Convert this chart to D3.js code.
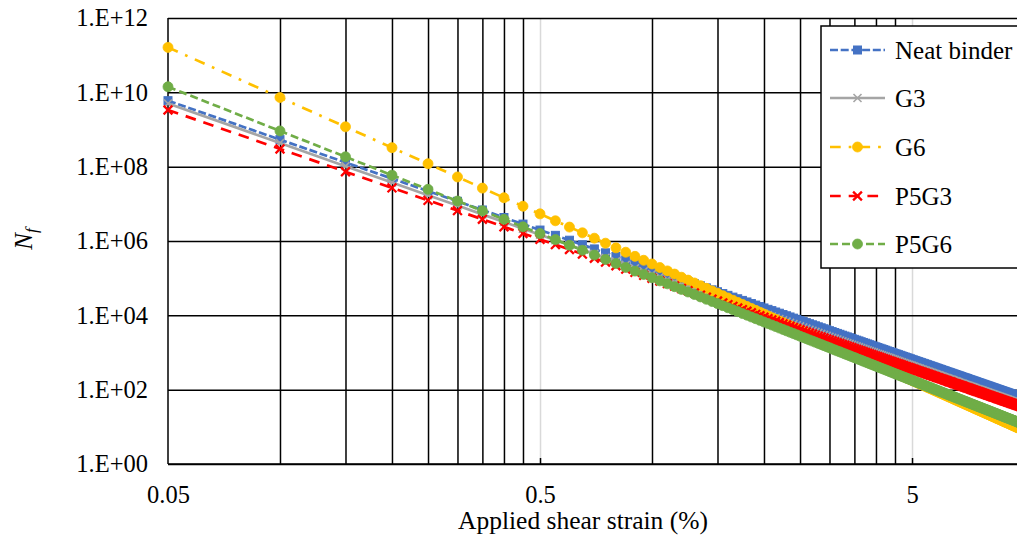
<!DOCTYPE html>
<html>
<head>
<meta charset="utf-8">
<script src="https://cdn.jsdelivr.net/npm/d3@7"></script>
<style>
  html, body { margin: 0; padding: 0; background: #fff; overflow: hidden; }
  svg { display: block; }
</style>
</head>
<body>
<svg id="chart" width="1017" height="535"></svg>
<script>
// Applied shear strain (%) at which fatigue life was evaluated
const strain = [
  0.05,0.10,0.15,0.20,0.25,0.30,0.35,0.40,0.45,0.50,0.55,0.60,0.65,0.70,0.75,0.80,0.85,0.90,0.95,1.00,
  1.05,1.10,1.15,1.20,1.25,1.30,1.35,1.40,1.45,1.50,1.55,1.60,1.65,1.70,1.75,1.80,1.85,1.90,1.95,2.00,
  2.05,2.10,2.15,2.20,2.25,2.30,2.35,2.40,2.45,2.50,2.55,2.60,2.65,2.70,2.75,2.80,2.85,2.90,2.95,3.00,
  3.05,3.10,3.15,3.20,3.25,3.30,3.35,3.40,3.45,3.50,3.55,3.60,3.65,3.70,3.75,3.80,3.85,3.90,3.95,4.00,
  4.05,4.10,4.15,4.20,4.25,4.30,4.35,4.40,4.45,4.50,4.55,4.60,4.65,4.70,4.75,4.80,4.85,4.90,4.95,5.00,
  5.05,5.10,5.15,5.20,5.25,5.30,5.35,5.40,5.45,5.50,5.55,5.60,5.65,5.70,5.75,5.80,5.85,5.90,5.95,6.00,
  6.05,6.10,6.15,6.20,6.25,6.30,6.35,6.40,6.45,6.50,6.55,6.60,6.65,6.70,6.75,6.80,6.85,6.90,6.95,7.00,
  7.05,7.10,7.15,7.20,7.25,7.30,7.35,7.40,7.45,7.50,7.55,7.60,7.65,7.70,7.75,7.80,7.85,7.90,7.95,8.00,
  8.05,8.10,8.15,8.20,8.25,8.30,8.35,8.40,8.45,8.50,8.55,8.60,8.65,8.70,8.75,8.80,8.85,8.90,8.95,9.00,
  9.05,9.10,9.15,9.20,9.25,9.30,9.35,9.40,9.45,9.50,9.55,9.60,9.65,9.70,9.75,9.80,9.85,9.90,9.95,10.00
];

// Cycles to failure Nf for each binder
const neatBinder = [
  5.96e9,5.34e8,1.30e8,4.78e7,2.20e7,1.17e7,6.83e6,4.29e6,2.85e6,1.97e6,
  1.42e6,1.05e6,7.92e5,6.12e5,4.81e5,3.84e5,3.11e5,2.55e5,2.11e5,1.77e5,
  1.49e5,1.27e5,1.09e5,9.37e4,8.14e4,7.09e4,6.22e4,5.48e4,4.85e4,4.31e4,
  3.85e4,3.45e4,3.09e4,2.79e4,2.52e4,2.29e4,2.08e4,1.89e4,1.73e4,1.58e4,
  1.45e4,1.34e4,1.23e4,1.14e4,1.05e4,9.74e3,9.04e3,8.40e3,7.82e3,7.29e3,
  6.80e3,6.36e3,5.95e3,5.57e3,5.23e3,4.91e3,4.62e3,4.35e3,4.10e3,3.86e3,
  3.65e3,3.45e3,3.26e3,3.09e3,2.92e3,2.77e3,2.63e3,2.50e3,2.38e3,2.26e3,
  2.15e3,2.05e3,1.95e3,1.86e3,1.78e3,1.70e3,1.62e3,1.55e3,1.48e3,1.42e3,
  1.36e3,1.30e3,1.25e3,1.20e3,1.15e3,1.10e3,1.06e3,1.02e3,980,943,
  907,873,841,810,781,753,726,701,677,653,
  631,610,589,570,551,533,516,500,484,469,
  454,440,427,414,402,390,378,367,357,346,
  336,327,318,309,300,292,284,277,269,262,
  255,249,242,236,230,224,218,213,208,203,
  198,193,188,184,179,175,171,167,163,159,
  156,152,149,145,142,139,136,133,130,127,
  125,122,119,117,114,112,110,107,105,103,
  101,98.9,96.9,95.0,93.1,91.3,89.6,87.8,86.1,84.5,
  82.8,81.3,79.7,78.2,76.8,75.4,74.0,72.6,71.3,70.0,
  68.7,67.5,66.3,65.1,63.9,62.8,61.7,60.6,59.6,58.5
];

const g3 = [
  5.01e9,4.34e8,1.03e8,3.76e7,1.71e7,8.97e6,5.21e6,3.25e6,2.14e6,1.48e6,
  1.05e6,7.77e5,5.86e5,4.51e5,3.54e5,2.82e5,2.28e5,1.85e5,1.54e5,1.28e5,
  1.08e5,9.19e4,7.83e4,6.73e4,5.83e4,5.07e4,4.44e4,3.90e4,3.45e4,3.06e4,
  2.73e4,2.44e4,2.18e4,1.97e4,1.78e4,1.61e4,1.46e4,1.33e4,1.21e4,1.10e4,
  1.02e4,9.30e3,8.59e3,7.92e3,7.32e3,6.77e3,6.28e3,5.82e3,5.42e3,5.05e3,
  4.70e3,4.39e3,4.10e3,3.84e3,3.60e3,3.38e3,3.17e3,2.98e3,2.81e3,2.65e3,
  2.50e3,2.36e3,2.23e3,2.11e3,2.00e3,1.89e3,1.79e3,1.71e3,1.62e3,1.54e3,
  1.46e3,1.39e3,1.32e3,1.26e3,1.20e3,1.15e3,1.10e3,1.05e3,1.01e3,957,
  914,880,846,807,775,744,714,686,659,633,
  610,586,564,544,523,504,486,469,453,437,
  422,407,393,380,368,355,344,333,322,312,
  302,292,284,275,266,259,250,244,236,230,
  223,216,210,205,199,193,188,183,178,173,
  169,164,160,155,151,147,144,140,136,133,
  130,126,124,120,118,115,112,110,106,104,
  102,99.8,97.3,94.8,93.2,90.7,89.0,86.6,84.9,83.3,
  81.3,79.5,77.8,76.1,74.5,72.9,71.4,69.9,68.5,67.1,
  65.7,64.4,63.0,61.7,60.5,59.3,58.1,57.0,55.9,54.8,
  53.8,52.7,51.7,50.7,49.7,48.8,47.9,47.0,46.1,45.3,
  44.4,43.7,42.8,42.0,41.3,40.5,39.8,39.2,38.4,37.8
];

const g6 = [
  1.62e11,7.27e9,1.18e9,3.25e8,1.20e8,5.29e7,2.65e7,1.46e7,8.61e6,5.37e6,
  3.50e6,2.37e6,1.66e6,1.19e6,8.73e5,6.54e5,4.99e5,3.86e5,3.03e5,2.41e5,
  1.93e5,1.57e5,1.29e5,1.06e5,8.86e4,7.43e4,6.27e4,5.33e4,4.55e4,3.91e4,
  3.38e4,2.93e4,2.55e4,2.23e4,1.96e4,1.73e4,1.53e4,1.36e4,1.21e4,1.08e4,
  9.65e3,8.67e3,7.80e3,7.03e3,6.36e3,5.76e3,5.24e3,4.77e3,4.34e3,3.97e3,
  3.63e3,3.33e3,3.06e3,2.81e3,2.59e3,2.39e3,2.21e3,2.04e3,1.89e3,1.75e3,
  1.63e3,1.51e3,1.41e3,1.31e3,1.22e3,1.14e3,1.07e3,1.00e3,938,879,
  825,775,729,686,645,608,574,541,512,483,
  457,433,410,388,368,350,332,315,300,285,
  271,258,246,235,224,214,204,195,186,178,
  170,163,156,149,143,137,131,126,121,116,
  111,107,103,98.9,95.1,91.5,88.0,84.7,81.5,78.6,
  75.7,73.0,70.4,67.9,65.4,63.1,61.0,58.9,56.8,54.9,
  53.0,51.3,49.6,47.9,46.4,44.8,43.4,42.0,40.7,39.4,
  38.1,37.0,35.8,34.7,33.7,32.6,31.6,30.7,29.8,28.9,
  28.1,27.3,26.5,25.7,25.0,24.3,23.6,22.9,22.3,21.7,
  21.1,20.5,19.9,19.4,18.9,18.4,17.9,17.4,16.9,16.5,
  16.1,15.7,15.3,14.9,14.5,14.1,13.8,13.4,13.1,12.8,
  12.5,12.2,11.9,11.6,11.3,11.0,10.8,10.5,10.3,10.0,
  9.79,9.57,9.35,9.14,8.93,8.72,8.53,8.34,8.15,7.97
];

const p5g3 = [
  3.35e9,3.00e8,7.31e7,2.69e7,1.24e7,6.58e6,3.84e6,2.41e6,1.60e6,1.11e6,
  7.98e5,5.90e5,4.45e5,3.44e5,2.70e5,2.16e5,1.75e5,1.43e5,1.19e5,9.95e4,
  8.38e4,7.14e4,6.13e4,5.27e4,4.58e4,3.99e4,3.50e4,3.08e4,2.73e4,2.42e4,
  2.16e4,1.94e4,1.74e4,1.57e4,1.42e4,1.29e4,1.17e4,1.06e4,9.73e3,8.88e3,
  8.15e3,7.53e3,6.92e3,6.41e3,5.90e3,5.48e3,5.08e3,4.72e3,4.40e3,4.10e3,
  3.82e3,3.58e3,3.35e3,3.13e3,2.94e3,2.76e3,2.60e3,2.45e3,2.31e3,2.17e3,
  2.05e3,1.94e3,1.83e3,1.74e3,1.64e3,1.56e3,1.48e3,1.41e3,1.34e3,1.27e3,
  1.21e3,1.15e3,1.10e3,1.05e3,1.00e3,956,911,872,832,798,
  765,731,703,675,647,619,596,574,551,530,
  510,491,473,455,439,423,408,394,381,367,
  355,343,331,321,310,300,290,281,272,264,
  255,247,240,233,226,219,213,206,201,195,
  189,184,179,174,169,164,160,156,151,147,
  143,140,136,133,129,126,123,120,117,114,
  111,109,106,103,101,98.4,96.2,93.9,91.7,89.4,
  87.7,85.5,83.8,81.5,79.8,78.2,76.5,74.8,73.1,71.4,
  70.3,68.6,66.9,65.8,64.1,63.0,61.9,60.2,59.0,57.9,
  56.8,55.6,54.5,53.4,52.4,51.3,50.4,49.4,48.4,47.5,
  46.6,45.7,44.8,44.0,43.2,42.4,41.6,40.8,40.1,39.4,
  38.6,38.0,37.3,36.6,35.9,35.3,34.7,34.1,33.5,32.9
];

const p5g6 = [
  1.41e10,9.14e8,1.84e8,5.91e7,2.45e7,1.19e7,6.49e6,3.82e6,2.40e6,1.58e6,
  1.09e6,7.71e5,5.63e5,4.20e5,3.19e5,2.48e5,1.95e5,1.55e5,1.26e5,1.03e5,
  8.46e4,7.04e4,5.91e4,4.99e4,4.25e4,3.64e4,3.13e4,2.71e4,2.36e4,2.07e4,
  1.82e4,1.60e4,1.42e4,1.26e4,1.12e4,1.01e4,9.03e3,8.13e3,7.33e3,6.63e3,
  6.02e3,5.48e3,4.99e3,4.55e3,4.17e3,3.82e3,3.51e3,3.23e3,2.98e3,2.75e3,
  2.54e3,2.35e3,2.18e3,2.03e3,1.89e3,1.76e3,1.64e3,1.53e3,1.43e3,1.34e3,
  1.25e3,1.17e3,1.10e3,1.04e3,975,918,865,816,770,728,
  688,651,617,585,554,526,499,475,451,429,
  409,390,371,354,338,323,308,295,282,270,
  258,247,237,227,218,209,200,193,185,178,
  171,164,158,152,147,141,136,131,127,122,
  118,114,110,106,102,99.0,95.6,92.5,89.4,86.5,
  83.8,81.1,78.5,76.0,73.6,71.4,69.2,67.1,65.1,63.1,
  61.2,59.4,57.7,56.0,54.3,52.8,51.3,49.8,48.4,47.1,
  45.8,44.5,43.3,42.1,41.0,39.9,38.8,37.8,36.8,35.8,
  34.9,34.0,33.2,32.3,31.5,30.7,29.9,29.2,28.5,27.8,
  27.1,26.5,25.8,25.2,24.6,24.0,23.5,22.9,22.4,21.9,
  21.4,20.9,20.4,19.9,19.5,19.1,18.6,18.2,17.8,17.4,
  17.1,16.7,16.3,16.0,15.7,15.3,15.0,14.7,14.4,14.1,
  13.8,13.5,13.2,13.0,12.7,12.5,12.2,12.0,11.7,11.5
];

const seriesNames = ["Neat binder", "G3", "G6", "P5G3", "P5G6"];

// Axis ticks and gridline positions
const yTickValues = [1, 1e2, 1e4, 1e6, 1e8, 1e10, 1e12];
const xTickLabels = [0.05, 0.5, 5];
const xMinorGrid = [0.1, 0.15, 0.2, 0.25, 0.3, 0.35, 0.4, 0.45, 1, 1.5, 2, 2.5, 3, 3.5, 4, 4.5, 10];
const xMajorGrid = [0.5, 5];

const FONT = "'Liberation Serif', 'Times New Roman', serif";
const plot = { left: 168, right: 1024, top: 18, bottom: 464 };

const svg = d3.select("#chart");
const x = d3.scaleLog().domain([0.05, 10]).range([plot.left, plot.right]);
const y = d3.scaleLog().domain([1, 1e12]).range([plot.bottom, plot.top]);

// Series styling
const styles = {
  "Neat binder": { color: "#4472C4", dash: "8,2.7", marker: "square" },
  "G3":          { color: "#A5A5A5", dash: null,    marker: "cross", crossHalf: 4, crossWidth: 1.6 },
  "G6":          { color: "#FFC000", dash: "10.7,8,2.7,8", marker: "circle" },
  "P5G3":        { color: "#FF0000", dash: "10.7,8", marker: "cross", crossHalf: 4.4, crossWidth: 2.3 },
  "P5G6":        { color: "#70AD47", dash: "8,4", marker: "circle" }
};
const seriesValues = { "Neat binder": neatBinder, "G3": g3, "G6": g6, "P5G3": p5g3, "P5G6": p5g6 };

// ---- gridlines ----
const vSpan = plot.bottom - plot.top;
svg.append("g")
  .attr("transform", `translate(0,${plot.bottom})`)
  .call(d3.axisBottom(x).tickValues(xMajorGrid).tickSize(-vSpan).tickFormat(""))
  .call(g => g.select(".domain").remove())
  .call(g => g.selectAll("line").attr("stroke", "#d9d9d9").attr("stroke-width", 1.5));

svg.append("g")
  .attr("transform", `translate(0,${plot.bottom})`)
  .call(d3.axisBottom(x).tickValues(xMinorGrid).tickSize(-vSpan).tickFormat(""))
  .call(g => g.select(".domain").remove())
  .call(g => g.selectAll("line").attr("stroke", "#000").attr("stroke-width", 1.5));

svg.append("g")
  .attr("transform", `translate(${plot.left},0)`)
  .call(d3.axisLeft(y).tickValues(yTickValues).tickSize(-(plot.right - plot.left)).tickFormat(""))
  .call(g => g.select(".domain").remove())
  .call(g => g.selectAll("line").attr("stroke", "#000").attr("stroke-width", 1.5));

// major tick marks (inside the plot)
svg.append("g")
  .attr("transform", `translate(0,${plot.bottom})`)
  .call(d3.axisBottom(x).tickValues(xMajorGrid).tickSize(-6).tickFormat(""))
  .call(g => g.select(".domain").remove())
  .call(g => g.selectAll("line").attr("stroke", "#000").attr("stroke-width", 1.5));

// axis lines
svg.append("line").attr("x1", plot.left).attr("x2", plot.left).attr("y1", plot.top).attr("y2", plot.bottom)
  .attr("stroke", "#000").attr("stroke-width", 1.5);
svg.append("line").attr("x1", plot.left).attr("x2", plot.right).attr("y1", plot.bottom).attr("y2", plot.bottom)
  .attr("stroke", "#000").attr("stroke-width", 1.5);

// ---- tick labels ----
const expLabel = v => {
  const e = Math.round(Math.log10(v));
  return "1.E+" + String(e).padStart(2, "0");
};
svg.append("g")
  .attr("transform", `translate(${plot.left},0)`)
  .call(d3.axisLeft(y).tickValues(yTickValues).tickSize(0).tickPadding(20).tickFormat(expLabel))
  .call(g => g.select(".domain").remove())
  .call(g => g.selectAll("text").attr("font-family", FONT).attr("font-size", 24.5).attr("fill", "#000"));

svg.append("g")
  .attr("transform", `translate(0,${plot.bottom})`)
  .call(d3.axisBottom(x).tickValues(xTickLabels).tickSize(0).tickPadding(22).tickFormat(d => String(d)))
  .call(g => g.select(".domain").remove())
  .call(g => g.selectAll("text").attr("font-family", FONT).attr("font-size", 24.5).attr("fill", "#000"));

// axis titles
svg.append("text")
  .attr("x", 583).attr("y", 529)
  .attr("text-anchor", "middle")
  .attr("font-family", FONT).attr("font-size", 25.5).attr("fill", "#000")
  .text("Applied shear strain (%)");

const yTitle = svg.append("text")
  .attr("transform", "translate(32,239) rotate(-90)")
  .attr("text-anchor", "middle")
  .attr("font-family", FONT).attr("font-size", 25).attr("font-style", "italic").attr("fill", "#000");
yTitle.append("tspan").text("N");
yTitle.append("tspan").attr("font-size", 17).attr("dy", 5).text("f");

// ---- markers ----
function drawMarker(g, type, st, cx, cy) {
  if (type === "square") {
    g.append("rect").attr("x", cx - 4).attr("y", cy - 4).attr("width", 8).attr("height", 8)
      .attr("fill", st.color).attr("stroke", st.color).attr("stroke-width", 1);
  } else if (type === "circle") {
    g.append("circle").attr("cx", cx).attr("cy", cy).attr("r", 5)
      .attr("fill", st.color).attr("stroke", st.color).attr("stroke-width", 0.8);
  } else {
    const h = st.crossHalf;
    g.append("path")
      .attr("d", `M${cx - h},${cy - h}L${cx + h},${cy + h}M${cx - h},${cy + h}L${cx + h},${cy - h}`)
      .attr("fill", "none").attr("stroke", st.color).attr("stroke-width", st.crossWidth);
  }
}

// ---- series ----
const line = d3.line().x(d => x(d.x)).y(d => y(d.v));
seriesNames.forEach(name => {
  const st = styles[name];
  const pts = strain.map((s, i) => ({ x: s, v: seriesValues[name][i] }));
  const g = svg.append("g").attr("class", "series");
  g.append("path")
    .attr("d", line(pts))
    .attr("fill", "none")
    .attr("stroke", st.color)
    .attr("stroke-width", 2.7)
    .attr("stroke-dasharray", st.dash)
    .attr("stroke-linejoin", "round");
  pts.forEach(p => drawMarker(g, st.marker, st, x(p.x), y(p.v)));
});

// ---- legend ----
const legend = svg.append("g");
legend.append("rect")
  .attr("x", 821).attr("y", 26).attr("width", 230).attr("height", 242)
  .attr("fill", "#fff").attr("stroke", "#000").attr("stroke-width", 1.5);
const legendRows = [50, 98, 147, 196, 244];
seriesNames.forEach((name, i) => {
  const st = styles[name];
  const ly = legendRows[i];
  legend.append("line")
    .attr("x1", 830).attr("x2", 885).attr("y1", ly).attr("y2", ly)
    .attr("stroke", st.color).attr("stroke-width", 2.7)
    .attr("stroke-dasharray", st.dash);
  drawMarker(legend, st.marker, st, 857.5, ly);
  legend.append("text")
    .attr("x", 895).attr("y", ly + 8.5)
    .attr("font-family", FONT).attr("font-size", 25).attr("fill", "#000")
    .text(name);
});
</script>
</body>
</html>
